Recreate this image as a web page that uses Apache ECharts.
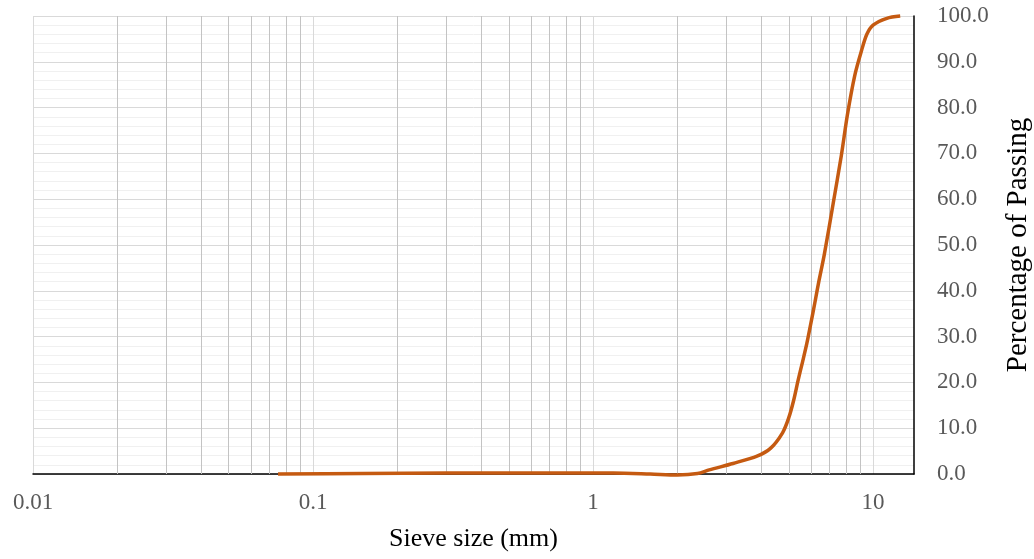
<!DOCTYPE html>
<html>
<head>
<meta charset="utf-8">
<script src="https://cdn.jsdelivr.net/npm/echarts@6/dist/echarts.min.js"></script>
<style>
    html, body { margin: 0; padding: 0; background: #fff; }
    #chart { width: 1034px; height: 559px; }
</style>
</head>
<body>
<div id="chart"></div>
<script>

// sieve size (mm) and percentage passing
var sieveSizes = [0.075, 0.15, 0.3, 0.6, 1.18, 1.6, 2.0, 2.36, 2.6, 3.16, 3.85, 4.3, 4.75, 5.0, 5.2, 5.4,
    5.6, 5.8, 6.0, 6.2, 6.4, 6.7, 7.2, 7.7, 8.1, 8.6, 9.1, 9.5, 10, 11.2, 12.5];
var passing = [0, 0.1, 0.2, 0.2, 0.2, 0, -0.2, 0.1, 0.9, 2.3, 3.9, 5.6, 9, 12.3, 16, 20.5,
    24.5, 28.5, 33, 37.5, 42, 48, 59, 69.5, 78.5, 87, 92.5, 96, 98, 99.5, 100];

// minor log gridlines (2..9 of each decade)
var decades = [0.01, 0.1, 1];
var minorSteps = [2, 3, 4, 5, 6, 7, 8, 9];

var font = "'Liberation Serif', 'Times New Roman', serif";

function minorLines() {
    var arr = [];
    decades.forEach(function (d) {
        minorSteps.forEach(function (m) {
            arr.push({ xAxis: parseFloat((d * m).toPrecision(6)) });
        });
    });
    return arr;
}

var chart = echarts.init(document.getElementById("chart"));

var option = {
    animation : false,
    grid : {
        left : 33,
        right : 120,
        top : 16,
        bottom : 85,
        containLabel : false,
        outerBoundsMode : "none"
    },
    xAxis : {
        type : "log",
        logBase : 10,
        min : 0.01,
        max : 14,
        name : "Sieve size (mm)",
        nameLocation : "middle",
        nameGap : 52,
        nameTextStyle : {
            fontFamily : font,
            fontSize : 26,
            color : "#000"
        },
        axisLine : {
            show : true,
            onZero : false,
            lineStyle : { color : "#000", width : 1.5 }
        },
        axisTick : { show : false },
        axisLabel : {
            margin : 17,
            fontFamily : font,
            fontSize : 23,
            color : "#595959",
            showMaxLabel : false,
            formatter : function (v) {
                return String(parseFloat(v.toPrecision(6)));
            }
        },
        splitLine : {
            show : true,
            showMaxLine : false,
            lineStyle : { color : "#d9d9d9", width : 1 }
        }
    },
    yAxis : {
        type : "value",
        position : "right",
        min : 0,
        max : 100,
        interval : 10,
        name : "Percentage of Passing",
        nameLocation : "middle",
        nameRotate : 90,
        nameGap : 90,
        nameTextStyle : {
            fontFamily : font,
            fontSize : 29,
            color : "#000"
        },
        axisLine : {
            show : true,
            lineStyle : { color : "#000", width : 1.5 }
        },
        axisTick : { show : false },
        axisLabel : {
            margin : 23,
            fontFamily : font,
            fontSize : 23,
            color : "#595959",
            formatter : function (v) {
                return v.toFixed(1);
            }
        },
        splitLine : {
            show : true,
            lineStyle : { color : "#d9d9d9", width : 1 }
        },
        minorTick : { show : false, splitNumber : 5 },
        minorSplitLine : {
            show : true,
            lineStyle : { color : "#f0f0f0", width : 1 }
        }
    },
    series : [
        {
            name : "Passing",
            type : "line",
            data : sieveSizes.map(function (s, i) {
                return [s, passing[i]];
            }),
            smooth : 0.3,
            clip : false,
            showSymbol : false,
            symbol : "none",
            lineStyle : { color : "#C55A11", width : 3.5 },
            z : 5,
            markLine : {
                silent : true,
                symbol : "none",
                label : { show : false },
                lineStyle : { color : "#c3c3c3", width : 1, type : "solid" },
                z : 1,
                data : minorLines()
            }
        }
    ]
};

chart.setOption(option);

window.addEventListener("resize", function () {
    chart.resize();
});

</script>
</body>
</html>
